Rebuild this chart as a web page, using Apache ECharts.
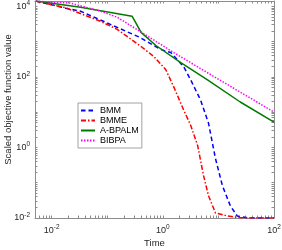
<!DOCTYPE html>
<html><head><meta charset="utf-8">
<script src="https://cdn.jsdelivr.net/npm/echarts@6/dist/echarts.min.js"></script>
<style>html,body{margin:0;padding:0;background:#fff}#c{width:282px;height:250px}</style>
</head><body><div id="c"></div>
<script>
// ---- data ----
const seriesNames = ['BMM', 'BMME', 'A-BPALM', 'BIBPA'];
const bmmTime  = [0.00518, 0.0178, 0.033, 0.113, 0.388, 0.92, 1.39, 2.37, 3.16, 4.77, 6.63, 8.84, 11.8, 16.4, 21.8, 33, 100];
const bmmValue = [13900, 8770, 7200, 3060, 1300, 591, 485, 193, 82, 22, 4.85, 0.485, 0.082, 0.022, 0.0114, 0.0101, 0.0100];
const bmmeTime  = [0.00518, 0.0178, 0.075, 0.151, 0.405, 0.69, 1.13, 1.57, 2.37, 3.16, 4.22, 5.4, 6.63, 8.84, 14.5, 24.7, 100];
const bmmeValue = [13900, 9000, 3730, 2200, 720, 373, 158, 51.8, 11.4, 4.25, 1.14, 0.158, 0.0425, 0.0139, 0.0114, 0.0101, 0.0100];
const abpalmTime  = [0.00518, 0.033, 0.279, 0.33, 0.405, 0.75, 2.1, 6.36, 24.7, 100];
const abpalmValue = [13900, 9360, 5180, 3270, 1810, 769, 251, 82, 19.3, 5.18];
const bibpaTime  = [0.00518, 0.0218, 0.075, 0.151, 0.388, 1.57, 6.36, 100];
const bibpaValue = [13900, 12200, 7200, 4850, 1930, 485, 130, 10];
const xLabelValues = [0.01, 1, 100];
const yLabelValues = [0.01, 1, 100, 10000];
const xTitle = 'Time';
const yTitle = 'Scaled objective function value';

function minorTicks(lo, hi) {
  const out = [];
  for (let e = -3; e <= 5; e++) for (let k = 1; k <= 9; k++) {
    const v = k * Math.pow(10, e);
    if (v >= lo * 0.9999 && v <= hi * 1.0001) out.push(+v.toPrecision(3));
  }
  return out;
}
const X_MIN = 0.005, X_MAX = 100, Y_MIN = 0.01, Y_MAX = 14000;
const xTicks = minorTicks(X_MIN, X_MAX);
const yTicks = minorTicks(Y_MIN, Y_MAX);

function pair(t, v) { return t.map((x, i) => [x, v[i]]); }
function fmt(v) {
  const e = Math.round(Math.log10(v));
  return '{b|10}{s|' + e + '}';
}
const axisColor = '#8c8c8c';
const labelRich = {
  b: { fontSize: 9, fontFamily: 'Liberation Sans', color: '#262626' },
  s: { fontSize: 6.5, fontFamily: 'Liberation Sans', color: '#262626', padding: [0, 0, 6, 0] }
};
function xAx(pos, show) {
  return {
    type: 'log', position: pos, min: X_MIN, max: X_MAX, logBase: 10,
    axisLine: { show: true, lineStyle: { color: axisColor, width: 1 } },
    axisTick: { show: true, inside: true, length: 2.5, customValues: xTicks, lineStyle: { color: axisColor } },
    axisLabel: { show: show, customValues: xLabelValues, formatter: fmt, rich: labelRich, margin: 6 },
    splitLine: { show: false }, minorTick: { show: false },
    name: show ? xTitle : '', nameLocation: 'middle', nameGap: 20, nameMoveOverlap: false,
    nameTextStyle: { fontSize: 9.5, fontFamily: 'Liberation Sans', color: '#262626' }
  };
}
function yAx(pos, show) {
  return {
    type: 'log', position: pos, min: Y_MIN, max: Y_MAX, logBase: 10,
    axisLine: { show: true, lineStyle: { color: axisColor, width: 1 } },
    axisTick: { show: true, inside: true, length: 2.5, customValues: yTicks, lineStyle: { color: axisColor } },
    axisLabel: { show: show, customValues: yLabelValues, formatter: fmt, rich: labelRich, margin: 5 },
    splitLine: { show: false }, minorTick: { show: false },
    name: show ? yTitle : '', nameLocation: 'middle', nameGap: 27, nameMoveOverlap: false,
    nameTextStyle: { fontSize: 9.5, fontFamily: 'Liberation Sans', color: '#262626', verticalAlign: 'middle', padding: [0, 0, 0, 20] }
  };
}
function line(name, data, color, type) {
  return {
    name, type: 'line', data, showSymbol: false, symbol: 'none', animation: false,
    lineStyle: { color, width: 1.5, type }, itemStyle: { color }
  };
}
const chart = echarts.init(document.getElementById('c'), null, { renderer: 'canvas' });
chart.setOption({
  animation: false,
  backgroundColor: '#fff',
  grid: { left: 35, right: 8, top: 1, bottom: 32, containLabel: false, outerBoundsMode: 'none' },
  xAxis: [xAx('bottom', true), xAx('top', false)],
  yAxis: [yAx('left', true), yAx('right', false)],
  legend: {
    orient: 'vertical', left: 78, top: 103,
    backgroundColor: '#fff', borderColor: '#8c8c8c', borderWidth: 0.8,
    padding: [3, 3, 3, 2], itemGap: 1, itemWidth: 14, itemHeight: 11,
    itemStyle: { opacity: 0 },
    textStyle: { fontSize: 9, fontFamily: 'Liberation Sans', color: '#000' },
    data: seriesNames
  },
  series: [
    line(seriesNames[0], pair(bmmTime, bmmValue), '#0000ff', [4.5, 3]),
    line(seriesNames[1], pair(bmmeTime, bmmeValue), '#ff0000', [5, 2, 1.5, 2]),
    line(seriesNames[2], pair(abpalmTime, abpalmValue), '#007a00', 'solid'),
    line(seriesNames[3], pair(bibpaTime, bibpaValue), '#ff00ff', [1.5, 1.5])
  ]
});
</script></body></html>
